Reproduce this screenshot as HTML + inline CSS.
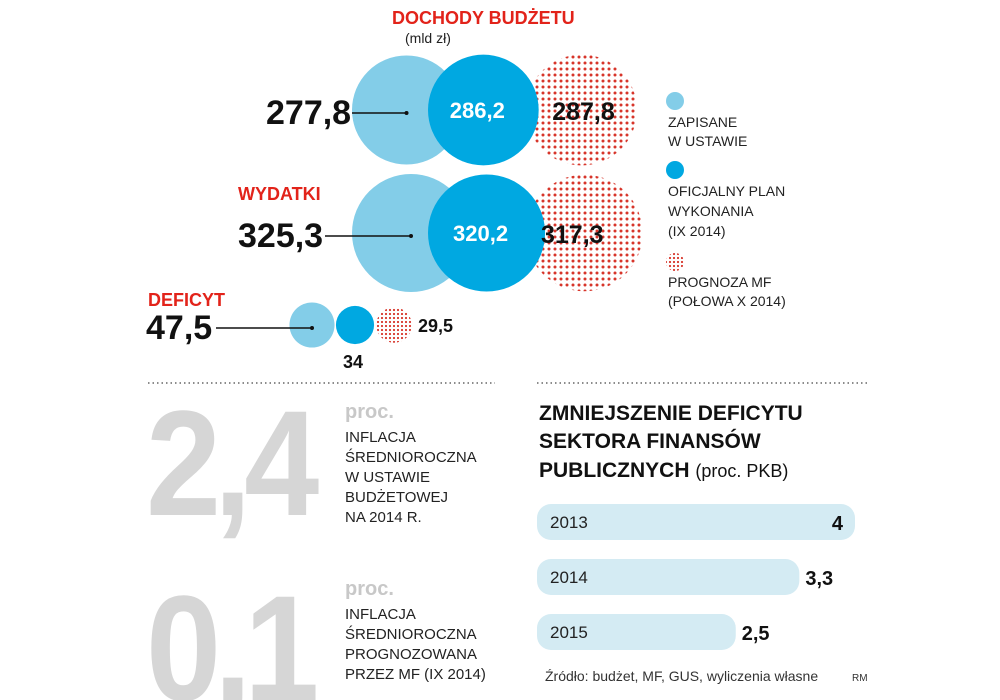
<!DOCTYPE html>
<html><head><meta charset="utf-8"><style>
html,body{margin:0;background:#fff;width:1000px;height:700px;overflow:hidden;}
svg{display:block;font-family:"Liberation Sans",sans-serif;overflow:hidden;}
</style></head><body>
<svg id="c" width="1000" height="700" viewBox="0 0 1000 700">
<defs>
<pattern id="dots" width="6" height="6" patternUnits="userSpaceOnUse"><circle cx="3" cy="3" r="1.5" fill="#d7352a"/></pattern>
<pattern id="dots2" width="4" height="4" patternUnits="userSpaceOnUse"><circle cx="2" cy="2" r="1.1" fill="#d7352a"/></pattern>
<clipPath id="frame"><rect x="0" y="0" width="1000" height="700"/></clipPath>
</defs>
<text x="392" y="24" font-size="18" font-weight="bold" fill="#e2231a">DOCHODY BUDŻETU</text>
<text x="405" y="43" font-size="14" fill="#222">(mld zł)</text>
<g id="bubbles"></g>
<text x="238" y="200" font-size="18" font-weight="bold" fill="#e2231a">WYDATKI</text>
<text x="148" y="306" font-size="18" font-weight="bold" fill="#e2231a">DEFICYT</text>
<g font-size="14" fill="#222">
<circle cx="675" cy="101" r="9" fill="#83cde8"/>
<text x="668" y="127">ZAPISANE</text><text x="668" y="146">W USTAWIE</text>
<circle cx="675" cy="170" r="9" fill="#00a8e1"/>
<text x="668" y="196">OFICJALNY PLAN</text><text x="668" y="216">WYKONANIA</text><text x="668" y="236">(IX 2014)</text>
<circle cx="675" cy="262" r="9" fill="url(#dots2)"/>
<text x="668" y="287">PROGNOZA MF</text><text x="668" y="306">(POŁOWA X 2014)</text>
</g>
<line x1="148" y1="383" x2="495" y2="383" stroke="#666" stroke-width="1.5" stroke-dasharray="1.5 3"/>
<line x1="537" y1="383" x2="868" y2="383" stroke="#666" stroke-width="1.5" stroke-dasharray="1.5 3"/>
<text x="146" y="515" font-size="150" font-weight="bold" fill="#d6d6d6" letter-spacing="-8" transform="translate(146 0) scale(0.9 1) translate(-146 0)">2,4</text>
<text x="345" y="418" font-size="20" font-weight="bold" fill="#c8c8c8">proc.</text>
<g font-size="15" fill="#222"><text x="345" y="442">INFLACJA</text><text x="345" y="462">ŚREDNIOROCZNA</text><text x="345" y="482">W USTAWIE</text><text x="345" y="502">BUDŻETOWEJ</text><text x="345" y="522">NA 2014 R.</text></g>
<g clip-path="url(#frame)">
<text x="146" y="700" font-size="150" font-weight="bold" fill="#d6d6d6" letter-spacing="-8" transform="translate(146 0) scale(0.9 1) translate(-146 0)">0,1</text>
</g>
<text x="345" y="595" font-size="20" font-weight="bold" fill="#c8c8c8">proc.</text>
<g font-size="15" fill="#222"><text x="345" y="619">INFLACJA</text><text x="345" y="639">ŚREDNIOROCZNA</text><text x="345" y="659">PROGNOZOWANA</text><text x="345" y="679">PRZEZ MF (IX 2014)</text></g>
<g font-size="21" font-weight="bold" fill="#111"><text x="539" y="420">ZMNIEJSZENIE DEFICYTU</text><text x="539" y="448">SEKTORA FINANSÓW</text><text x="539" y="477">PUBLICZNYCH <tspan font-weight="normal" font-size="18">(proc. PKB)</tspan></text></g>
<g id="bars"></g>
<text x="545" y="681" font-size="14" fill="#333">Źródło: budżet, MF, GUS, wyliczenia własne</text>
<text x="852" y="681" font-size="10" fill="#333">RM</text>
</svg>
<script>
const rows = ["revenue", "expenses", "deficit"];
const planned = [277.8, 325.3, 47.5];
const official = [286.2, 320.2, 34];
const forecast = [287.8, 317.3, 29.5];
const plannedLabels = ["277,8", "325,3", "47,5"];
const officialLabels = ["286,2", "320,2", "34"];
const forecastLabels = ["287,8", "317,3", "29,5"];
const years = ["2013", "2014", "2015"];
const deficitPkb = [4, 3.3, 2.5];
const deficitLabels = ["4", "3,3", "2,5"];

const NS = "http://www.w3.org/2000/svg";
function mk(tag, attrs, parent){const e=document.createElementNS(NS,tag);for(const k in attrs)e.setAttribute(k,attrs[k]);parent.appendChild(e);return e;}
const rowY = [110, 233, 325];
const rScale = v => Math.sqrt(v/325.3)*59;
const bg = document.getElementById('bubbles');
rows.forEach((r,i)=>{
  const y = rowY[i];
  const r1 = rScale(planned[i]), r2 = rScale(official[i]), r3 = rScale(forecast[i]);
  const small = i===2;
  const x1 = small ? 312 : 352 + r1;
  const x2 = small ? 355 : 428 + r2;
  const x3 = small ? 394 : 526 + r3;
  let c = mk('circle',{cx:x1,cy:y,r:r1,fill:'#83cde8'},bg);
  
  
  c = mk('circle',{cx:x3,cy:y,r:r3,fill:small?'url(#dots2)':'url(#dots)'},bg);
  
  
  c = mk('circle',{cx:x2,cy:y,r:r2,fill:'#00a8e1'},bg);
  
  
  const lx = small ? 216 : (i===0 ? 352 : 325);
  const tx = small ? 146 : (i===0 ? 266 : 238);
  mk('line',{x1:lx,y1:y+3,x2:x1,y2:y+3,stroke:'#111','stroke-width':1.5},bg);
  mk('circle',{cx:x1,cy:y+3,r:2,fill:'#111'},bg);
  let t = mk('text',{x:tx,y:y+14,'font-size':34,'font-weight':'bold',fill:'#111','letter-spacing':'0'},bg);
  t.textContent = plannedLabels[i];
  
  
  if(small){
    t = mk('text',{x:343,y:368,'font-size':18,'font-weight':'bold',fill:'#111'},bg);
    t.textContent = officialLabels[i];
    t = mk('text',{x:418,y:332,'font-size':18,'font-weight':'bold',fill:'#111'},bg);
    t.textContent = forecastLabels[i];
  } else {
    t = mk('text',{x:x2-6,y:y+8,'font-size':22,'font-weight':'bold',fill:'#fff','text-anchor':'middle'},bg);
    t.textContent = officialLabels[i];
    t = mk('text',{x:x3+(i===0?2:-12),y:y+10,'font-size':25,'font-weight':'bold',fill:'#111','text-anchor':'middle'},bg);
    t.textContent = forecastLabels[i];
  }
  
  
});
const bars = document.getElementById('bars');
const x0 = 537, unit = 79.5;
const barY = [504, 559, 614];
years.forEach((yr,i)=>{
  const w = deficitPkb[i]*unit;
  const b = mk('rect',{x:x0,y:barY[i],width:w,height:36,rx:14,fill:'#d4ebf3'},bars);
  
  
  let t = mk('text',{x:x0+13,y:barY[i]+24,'font-size':17,fill:'#222'},bars);
  t.textContent = yr;
  
  
  const inside = i===0;
  t = mk('text',{x:inside? x0+w-12 : x0+w+6,y:barY[i]+26,'font-size':20,'font-weight':'bold',fill:'#111','text-anchor':inside?'end':'start'},bars);
  t.textContent = deficitLabels[i];
  
  
});
</script>
</body></html>
